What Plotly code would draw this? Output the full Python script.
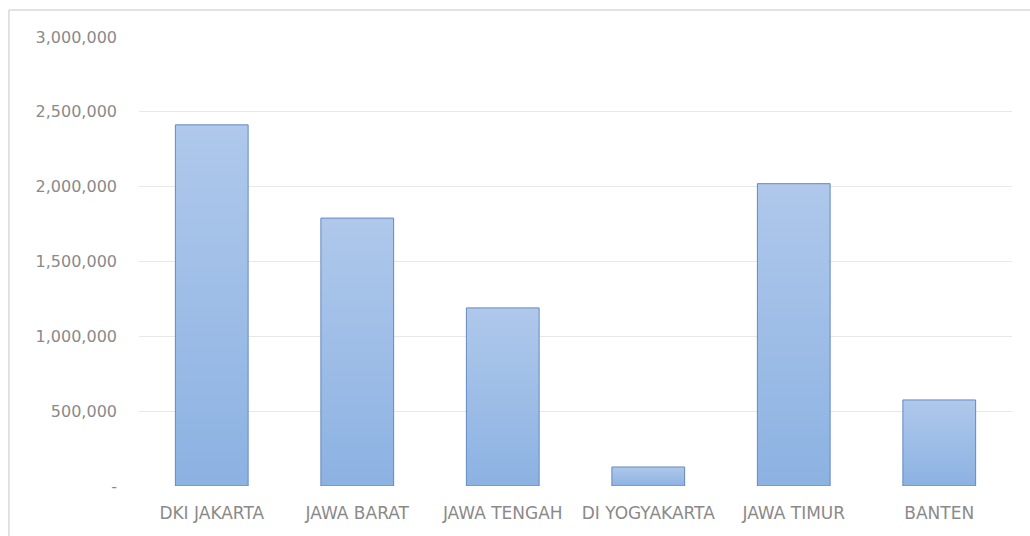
import plotly.graph_objects as go

# Provinces and their values
provinces = ["DKI JAKARTA", "JAWA BARAT", "JAWA TENGAH", "DI YOGYAKARTA", "JAWA TIMUR", "BANTEN"]
values = [2413000, 1790000, 1190000, 127000, 2020000, 575000]

y_tickvals = [0, 500000, 1000000, 1500000, 2000000, 2500000, 3000000]
y_ticktext = ["-", "500,000", "1,000,000", "1,500,000", "2,000,000", "2,500,000", "3,000,000"]

BAR_HALF = 0.25
X_FONT = dict(family="DejaVu Sans, sans-serif", size=17, color="#8a8a8a")
Y_FONT = dict(family="DejaVu Sans, sans-serif", size=16, color="#8a8a8a")

fig = go.Figure()

# Each column is a filled rectangle so it can carry a vertical gradient
for i, (name, v) in enumerate(zip(provinces, values)):
    x0, x1 = i - BAR_HALF, i + BAR_HALF
    fig.add_trace(go.Scatter(
        x=[x0, x1, x1, x0, x0],
        y=[0, 0, v, v, 0],
        mode="lines",
        fill="toself",
        fillgradient=dict(
            type="vertical",
            colorscale=[[0, "#8cb2e2"], [1, "#afc8eb"]],
            start=0,
            stop=v,
        ),
        line=dict(color="#6389bf", width=1),
        name=name,
        showlegend=False,
        hoverinfo="skip",
    ))

fig.update_layout(
    width=1030,
    height=536,
    paper_bgcolor="white",
    plot_bgcolor="white",
    margin=dict(l=139, r=18, t=37, b=50),
    font=X_FONT,
    xaxis=dict(
        range=[-0.5, len(provinces) - 0.5],
        tickmode="array",
        tickvals=list(range(len(provinces))),
        ticktext=provinces,
        showgrid=False,
        zeroline=False,
        showline=False,
        ticks="",
        ticklabelstandoff=15,
        tickfont=X_FONT,
        fixedrange=True,
    ),
    yaxis=dict(
        range=[0, 3000000],
        tickmode="array",
        tickvals=y_tickvals,
        ticktext=y_ticktext,
        showgrid=True,
        gridcolor="#e8e8e8",
        gridwidth=1,
        zeroline=False,
        showline=False,
        ticks="",
        ticklabelstandoff=21,
        tickfont=Y_FONT,
        fixedrange=True,
    ),
    shapes=[
        # chart-area frame (left and top edges)
        dict(type="line", xref="paper", yref="paper", x0=-0.149, x1=-0.149, y0=-0.12, y1=1.06,
             line=dict(color="#d9d9d9", width=1.5)),
        dict(type="line", xref="paper", yref="paper", x0=-0.149, x1=1.03, y0=1.06, y1=1.06,
             line=dict(color="#d9d9d9", width=1.5)),
    ],
)

fig.write_html("out.html")
